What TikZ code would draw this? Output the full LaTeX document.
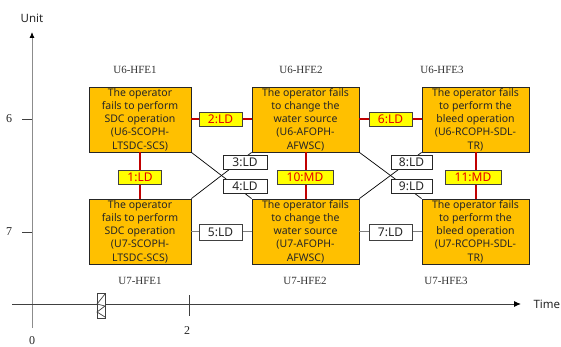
\documentclass[tikz,border=0pt]{standalone}
\usepackage{fontspec}
\setmainfont{Liberation Serif}
\newfontfamily\boxfont{Noto Sans}
\usetikzlibrary{arrows.meta}
\definecolor{hfeorange}{HTML}{FFC000}
\definecolor{lblyellow}{HTML}{FFFF00}
\definecolor{linered}{HTML}{C00000}
\definecolor{lbltext}{RGB}{230,0,0}
\definecolor{axisgray}{HTML}{8C8C8C}
\definecolor{darkline}{HTML}{404040}
\definecolor{midgray}{HTML}{7F7F7F}
\begin{document}
\begin{tikzpicture}[x=1pt,y=-1pt,
  hfe/.style={draw=black!85, fill=hfeorange, line width=0.8pt, minimum height=65pt,
    minimum width=107pt, inner sep=0pt, align=center,
    font=\boxfont\fontsize{10.5}{13.3}\selectfont, text=black!85},
  redlbl/.style={draw=darkline, fill=lblyellow, line width=0.8pt, minimum height=14pt,
    minimum width=43pt, inner sep=0pt, font=\boxfont\fontsize{12}{14}\selectfont, text=lbltext},
  whitelbl/.style={draw=black!85, fill=white, line width=0.8pt, minimum height=14pt,
    minimum width=43pt, inner sep=0pt, font=\boxfont\fontsize{12}{14}\selectfont, text=black!85},
  redlink/.style={draw=linered, line width=2pt},
  graylink/.style={draw=midgray, line width=1.5pt},
  crosslink/.style={draw=black, line width=0.7pt},
  hfename/.style={font=\fontsize{11}{13}\selectfont, text=black!80},
  axisnum/.style={font=\fontsize{12}{14}\selectfont, text=black!85},
  axisname/.style={font=\boxfont\fontsize{11.5}{14}\selectfont, text=black!85}
]
\useasboundingbox (0,0) rectangle (561,347);

% axes
\draw[axisgray, line width=0.8pt, -{Latex[length=6pt,width=5pt,color=black]}] (32,328) coordinate (yaxbase) -- (32,32) coordinate (yaxtip);
\draw[darkline, line width=1pt, -{Latex[length=7pt,width=6pt,color=black]}] (12,304) coordinate (xaxbase) -- (521,304) coordinate (xaxtip);
\draw[darkline, line width=0.8pt] (22,119) coordinate (t6a) -- (32,119) coordinate (t6b);
\draw[darkline, line width=0.8pt] (22,232) coordinate (t7a) -- (32,232) coordinate (t7b);
\draw[darkline, line width=0.8pt] (189,295) coordinate (t2a) -- (189,316) coordinate (t2b);
\node[axisname] (unit) at (32,18) {Unit};
\node[axisname, anchor=west] (time) at (530,304) {Time};
\node[axisnum] (n6) at (9,119) {6};
\node[axisnum] (n7) at (9,232) {7};
\node[axisnum] (n0) at (32,341) {0};
\node[axisnum] (n2) at (187,331) {2};

% break symbol
\draw[darkline, fill=white, line width=0.7pt] (97,293) rectangle (105,318);
\draw[darkline, line width=0.7pt] (105,294) -- (97,304) -- (105,306) -- (97,312) -- (105,317);

% HFE boxes
\node[hfe, minimum width=102pt] (a1) at (140,119.5) {The operator\\fails to perform\\SDC operation\\(U6-SCOPH-\\LTSDC-SCS)};
\node[hfe] (a2) at (305.5,119.5) {The operator fails\\to change the\\water source\\(U6-AFOPH-\\AFWSC)};
\node[hfe] (a3) at (475.5,119.5) {The operator fails\\to perform the\\bleed operation\\(U6-RCOPH-SDL-\\TR)};
\node[hfe, minimum width=102pt] (b1) at (140,231.5) {The operator\\fails to perform\\SDC operation\\(U7-SCOPH-\\LTSDC-SCS)};
\node[hfe] (b2) at (305.5,231.5) {The operator fails\\to change the\\water source\\(U7-AFOPH-\\AFWSC)};
\node[hfe] (b3) at (475.5,231.5) {The operator fails\\to perform the\\bleed operation\\(U7-RCOPH-SDL-\\TR)};

% HFE names
\node[hfename] (na1) at (135,70) {U6-HFE1};
\node[hfename] (na2) at (301,70) {U6-HFE2};
\node[hfename] (na3) at (442,70) {U6-HFE3};
\node[hfename] (nb1) at (140,281) {U7-HFE1};
\node[hfename] (nb2) at (305,281) {U7-HFE2};
\node[hfename] (nb3) at (446,281) {U7-HFE3};

% links
\draw[redlink] (a1.east) -- (a2.west);
\draw[redlink] (a2.east) -- (a3.west);
\draw[redlink] (a1.south) -- (b1.north);
\draw[redlink] (a2.south) -- (b2.north);
\draw[redlink] (a3.south) -- (b3.north);
\draw[graylink] (b1.east) -- (b2.west);
\draw[graylink] (b2.east) -- (b3.west);
\draw[crosslink] (a1.south east) -- (b2.north west);
\draw[crosslink] (b1.north east) -- (a2.south west);
\draw[crosslink] (a2.south east) -- (b3.north west);
\draw[crosslink] (b2.north east) -- (a3.south west);

% link labels
\node[redlbl] (l2) at (220.5,119) {2:LD};
\node[redlbl] (l6) at (390.5,119) {6:LD};
\node[redlbl] (l1) at (140,177.5) {1:LD};
\node[redlbl, minimum width=56pt] (l10) at (305,177.5) {10:MD};
\node[redlbl, minimum width=56pt] (l11) at (473,177.5) {11:MD};
\node[whitelbl, minimum width=44pt] (l3) at (245,162) {3:LD};
\node[whitelbl, minimum width=44pt] (l4) at (245,186) {4:LD};
\node[whitelbl, minimum width=41pt] (l8) at (411.5,162) {8:LD};
\node[whitelbl, minimum width=41pt] (l9) at (411.5,186) {9:LD};
\node[whitelbl, draw=darkline, minimum height=16pt] (l5) at (220.5,232) {5:LD};
\node[whitelbl, draw=darkline, minimum height=16pt] (l7) at (390.5,232) {7:LD};
\end{tikzpicture}
\end{document}
